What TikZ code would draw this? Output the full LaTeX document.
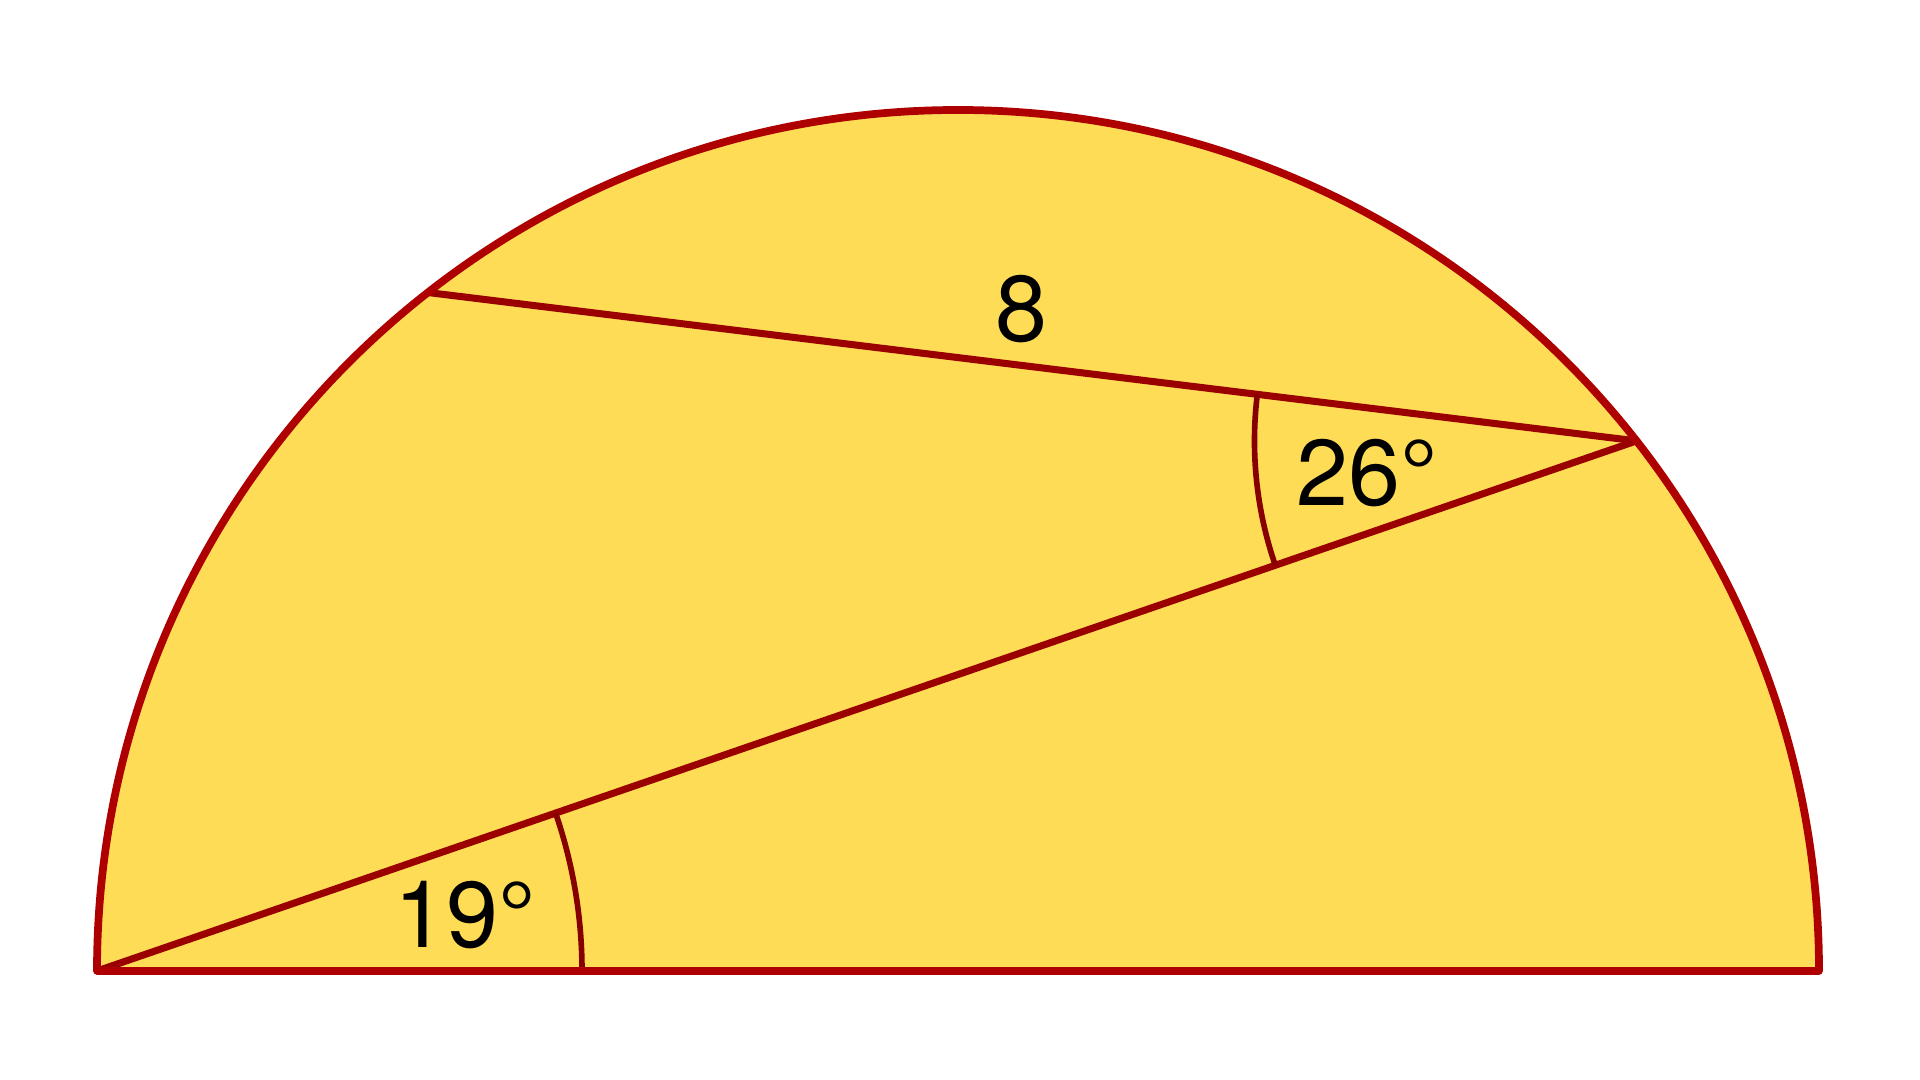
\documentclass[tikz,border=0pt]{standalone}
\usepackage{fontspec}
\setmainfont{TeX Gyre Heros}
\usepackage{tikz}
\usetikzlibrary{calc}

\definecolor{halffill}{HTML}{FEDC56}
\definecolor{rimred}{HTML}{AE0000}
\definecolor{chordred}{HTML}{9A0000}
\definecolor{markred}{HTML}{860000}

\begin{document}
\begin{tikzpicture}[line join=round,
  lbl/.style={inner sep=0pt,font=\fontsize{26.6}{30}\selectfont}]
\useasboundingbox (0,0) rectangle (19.2,10.8);

\coordinate (O) at (9.58,1.09);
\coordinate (A) at ($(O)+(180:8.61)$);
\coordinate (D) at ($(O)+(0:8.61)$);
\coordinate (B) at ($(O)+(128:8.61)$);
\coordinate (C) at ($(O)+(38:8.61)$);

% half disc
\fill[halffill] (D) arc (0:180:8.61) -- cycle;

% chords
\draw[chordred,line width=2pt] (A) -- (C);
\draw[chordred,line width=2pt] (B) -- (C);

% angle marks
\draw[markred,line width=1.6pt] (A) ++(0:4.85) arc (0:19:4.85);
\draw[markred,line width=1.6pt] (C) ++(173:3.82) arc (173:199:3.82);

% rim
\draw[rimred,line width=2.2pt] (D) arc (0:180:8.61) -- cycle;

\node[lbl] (side) at (10.21,7.71) {8};
\node[lbl] (angA) at (4.65,1.645) {19°};
\node[lbl] (angC) at (13.67,6.07) {26°};
\end{tikzpicture}
\end{document}
